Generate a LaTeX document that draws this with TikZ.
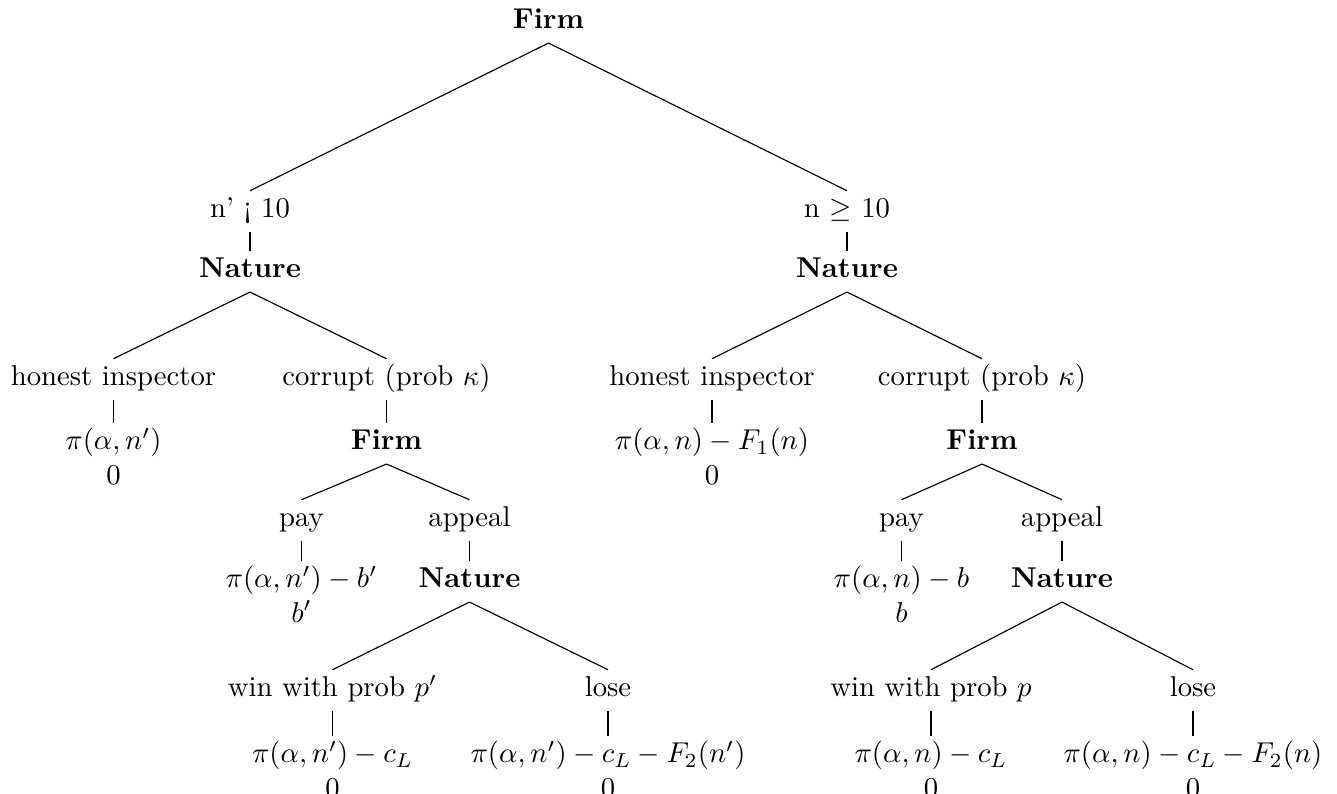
\documentclass[tikz,border=0pt]{standalone}
\begin{document}
\begin{tikzpicture}[x=0.34843pt,y=-0.34843pt,
  tn/.style={inner sep=3pt, outer sep=0pt, text height=6.5pt, text depth=1.9pt, anchor=base},
  zn/.style={inner sep=0pt, outer sep=0pt, anchor=base},
  br/.style={draw=black, line width=0.4pt}]
\useasboundingbox (0,0) rectangle (1337,794);
% nodes
\node[tn] (f0) at (548.5,29) {\textbf{Firm}};
\node[tn] (a) at (250,218) {n’ ¡ 10};
\node[tn] (b) at (847,218) {n $\geq$ 10};
\node[tn] (na) at (250,278) {\textbf{Nature}};
\node[tn] (nb) at (847,278) {\textbf{Nature}};
\node[tn] (ha) at (113.5,386) {honest inspector};
\node[tn] (ca) at (386.5,386) {corrupt (prob $\kappa$)};
\node[tn] (hb) at (712,386) {honest inspector};
\node[tn] (cb) at (982,386) {corrupt (prob $\kappa$)};
\node[tn] (pha) at (113.5,450) {$\pi(\alpha,n')$};
\node[zn] (zha) at (113.5,484.4) {$0$};
\node[tn] (fa) at (386.5,450) {\textbf{Firm}};
\node[tn] (phb) at (712,450) {$\pi(\alpha,n)-F_1(n)$};
\node[zn] (zhb) at (712,484.4) {$0$};
\node[tn] (fb) at (982,450) {\textbf{Firm}};
\node[tn] (pya) at (301.5,527) {pay};
\node[tn] (apa) at (469.5,527) {appeal};
\node[tn] (pyb) at (901.5,527) {pay};
\node[tn] (apb) at (1062,527) {appeal};
\node[tn] (ppa) at (301.5,588) {$\pi(\alpha,n')-b'$};
\node[zn] (zpa) at (301.5,622.4) {$b'$};
\node[tn] (nna) at (469.5,588) {\textbf{Nature}};
\node[tn] (ppb) at (901.5,588) {$\pi(\alpha,n)-b$};
\node[zn] (zpb) at (901.5,622.4) {$b$};
\node[tn] (nnb) at (1062,588) {\textbf{Nature}};
\node[tn] (wa) at (332.5,697) {win with prob $p'$};
\node[tn] (la) at (608,697) {lose};
\node[tn] (wb) at (931,697) {win with prob $p$};
\node[tn] (lb) at (1193,697) {lose};
\node[tn] (pwa) at (332.5,763) {$\pi(\alpha,n')-c_L$};
\node[zn] (zwa) at (332.5,797.4) {$0$};
\node[tn] (pla) at (608,763) {$\pi(\alpha,n')-c_L-F_2(n')$};
\node[zn] (zla) at (608,797.4) {$0$};
\node[tn] (pwb) at (931,763) {$\pi(\alpha,n)-c_L$};
\node[zn] (zwb) at (931,797.4) {$0$};
\node[tn] (plb) at (1193,763) {$\pi(\alpha,n)-c_L-F_2(n)$};
\node[zn] (zlb) at (1193,797.4) {$0$};
% branches
\foreach \p/\c in {f0/a, f0/b, na/ha, na/ca, nb/hb, nb/cb, fa/pya, fa/apa, fb/pyb, fb/apb, nna/wa, nna/la, nnb/wb, nnb/lb,
  a/na, b/nb, ha/pha, ca/fa, hb/phb, cb/fb, pya/ppa, apa/nna, pyb/ppb, apb/nnb, wa/pwa, la/pla, wb/pwb, lb/plb}
  \draw[br] (\p.south) -- (\c.north);
\end{tikzpicture}
\end{document}
